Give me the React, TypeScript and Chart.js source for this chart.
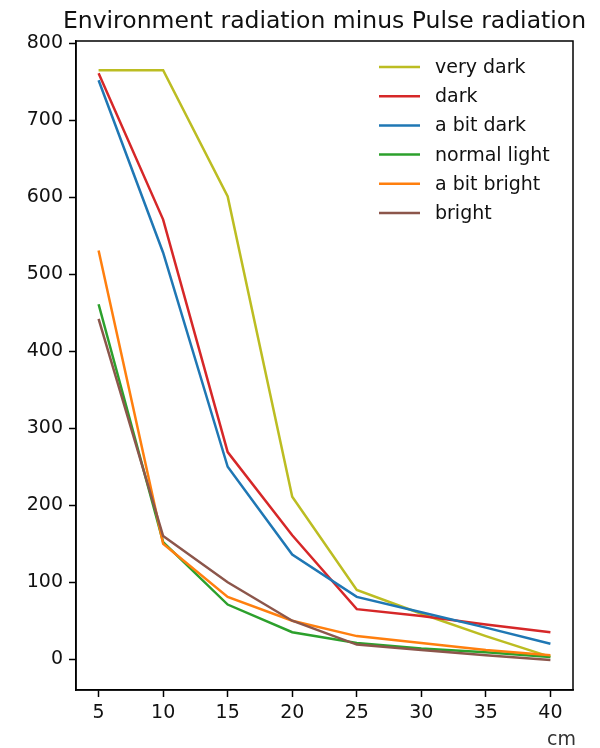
import React, { useEffect, useRef } from "react";
import { Chart, registerables } from "chart.js";

Chart.register(...registerables);

const titleText = "Environment radiation minus Pulse radiation";
const xAxisLabel = "cm";
const distances = [5, 10, 15, 20, 25, 30, 35, 40];
const seriesNames = ["very dark", "dark", "a bit dark", "normal light", "a bit bright", "bright"];
const veryDark = [765, 765, 601, 211, 90, 59, 30, 3];
const dark = [761, 571, 269, 161, 65, 56, 45, 35];
const aBitDark = [752, 528, 250, 136, 81, 61, 41, 20];
const normalLight = [461, 152, 71, 35, 21, 14, 9, 3];
const aBitBright = [531, 150, 81, 50, 30, 21, 12, 5];
const bright = [442, 160, 100, 50, 19, 12, 5, -1];
const seriesColors = ["#bcbd22", "#d62728", "#1f77b4", "#2ca02c", "#ff7f0e", "#8c564b"];
const yTickStep = 100;
const xTickStep = 5;

const FONT = "'DejaVu Sans', 'Liberation Sans', sans-serif";

const overlayPlugin = {
  id: "overlay",
  afterDraw(chart: any) {
    const ctx = chart.ctx;
    const area = chart.chartArea;
    ctx.save();
    // top/right spines
    ctx.strokeStyle = "#000";
    ctx.lineWidth = 1.5;
    ctx.strokeRect(area.left, area.top, area.right - area.left, area.bottom - area.top);
    // title
    ctx.fillStyle = "#111";
    ctx.font = `23.5px ${FONT}`;
    ctx.textAlign = "center";
    ctx.textBaseline = "alphabetic";
    ctx.fillText(titleText, (area.left + area.right) / 2, 28);
    // x label
    ctx.font = `19px ${FONT}`;
    ctx.fillStyle = "#333";
    ctx.textAlign = "center";
    ctx.fillText(xAxisLabel, 561.5, 745);
    // legend
    const x0 = area.right - 194;
    const y0 = area.top + 26;
    const rowH = 29.2;
    chart.data.datasets.forEach((ds: any, i: number) => {
      const y = y0 + i * rowH;
      ctx.strokeStyle = ds.borderColor;
      ctx.lineWidth = ds.borderWidth;
      ctx.beginPath();
      ctx.moveTo(x0, y);
      ctx.lineTo(x0 + 41, y);
      ctx.stroke();
      ctx.fillStyle = "#111";
      ctx.font = `19px ${FONT}`;
      ctx.textAlign = "left";
      ctx.textBaseline = "middle";
      ctx.fillText(ds.label, x0 + 56, y + 1);
    });
    ctx.restore();
  },
};

export default function App() {
  const ref = useRef<HTMLCanvasElement | null>(null);
  useEffect(() => {
    if (!ref.current) return;
    const all = [veryDark, dark, aBitDark, normalLight, aBitBright, bright];
    const datasets = all.map((vals, i) => ({
      label: seriesNames[i],
      data: distances.map((d, k) => ({ x: d, y: vals[k] })),
      borderColor: seriesColors[i],
      backgroundColor: seriesColors[i],
      borderWidth: 2.5,
      pointRadius: 0,
      tension: 0,
      fill: false,
      order: all.length - i,
    }));
    const chart = new Chart(ref.current, {
      type: "line",
      data: { datasets },
      plugins: [overlayPlugin],
      options: {
        responsive: false,
        animation: false,
        layout: { padding: { top: 41, right: 27, left: 0, bottom: 0 } },
        plugins: { legend: { display: false }, tooltip: { enabled: false }, title: { display: false } },
        font: { family: FONT },
        scales: {
          x: {
            type: "linear",
            min: 3.25,
            max: 41.75,
            afterFit: (s: any) => { s.height = 58; },
            grid: { display: true, drawOnChartArea: false, drawTicks: true, tickLength: 7, tickWidth: 1.5, tickColor: "#000" },
            border: { display: true, color: "#000", width: 1.5 },
            ticks: { stepSize: xTickStep, includeBounds: false, color: "#111", padding: 5, font: { family: FONT, size: 19 }, maxRotation: 0 },
          },
          y: {
            type: "linear",
            min: -40,
            max: 803,
            afterFit: (s: any) => { s.width = 76; },
            grid: { display: true, drawOnChartArea: false, drawTicks: true, tickLength: 7, tickWidth: 1.5, tickColor: "#000" },
            border: { display: true, color: "#000", width: 1.5 },
            ticks: { stepSize: yTickStep, includeBounds: false, color: "#111", padding: 6, font: { family: FONT, size: 19 } },
          },
        },
      } as any,
    });
    return () => chart.destroy();
  }, []);
  return (
    <div style={{ position: "fixed", left: 0, top: 0, width: 600, height: 748, background: "#fff" }}>
      <canvas ref={ref} width={600} height={748} style={{ display: "block", width: 600, height: 748 }} />
    </div>
  );
}
